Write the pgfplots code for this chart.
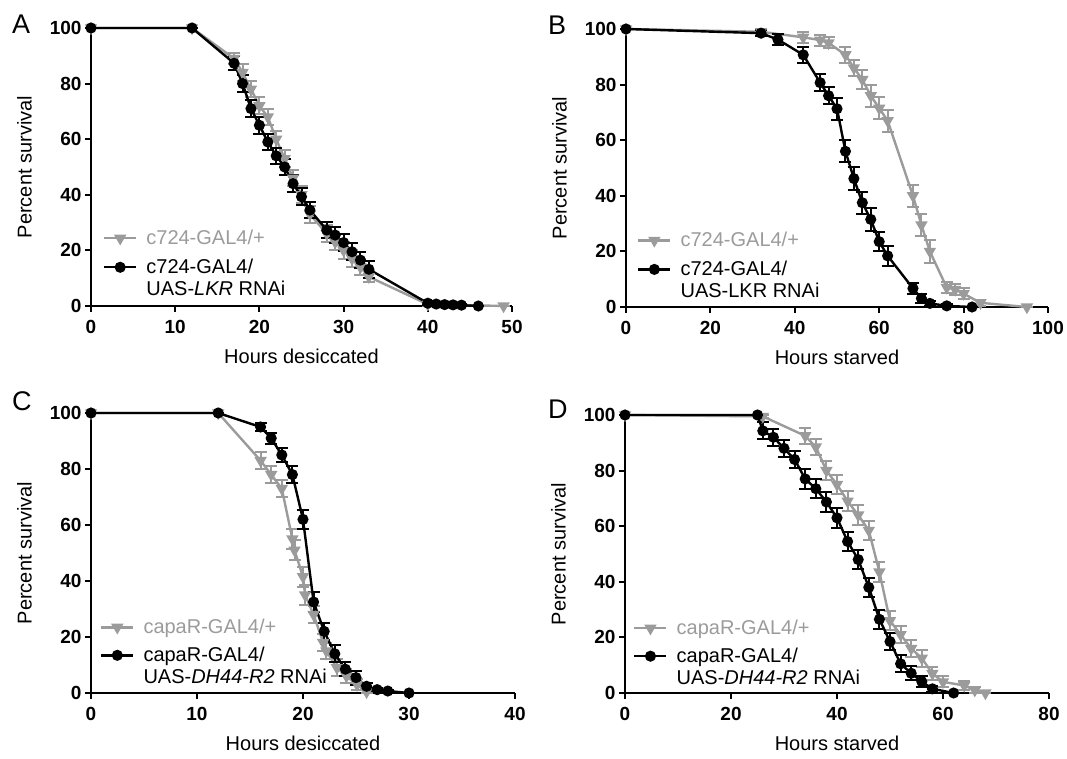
\documentclass[border=0pt]{standalone}
\usepackage{fontspec}
\setmainfont{Liberation Sans}
\usepackage{pgfplots}
\pgfplotsset{compat=1.18}

\definecolor{ctrl}{RGB}{155,155,155}

\pgfplotsset{
  survival/.style={
    scale only axis,
    anchor=south west,
    axis lines=left,
    axis line style={-, line width=2.4pt},
    tick align=outside,
    major tick length=6pt,
    tick style={line width=2pt, black},
    ymin=0, ymax=100,
    ytick={0,20,...,100},
    /pgf/number format/assume math mode=true,
    ticklabel style={font=\bfseries\fontsize{19}{21}\selectfont},
    xticklabel shift=5pt,
    label style={font=\fontsize{20}{23}\selectfont},
    xlabel style={yshift=-8pt},
    ylabel style={yshift=11pt},
    ylabel={Percent survival},
    clip=false,
    legend cell align=left,
    legend style={draw=none, fill=none, anchor=north west, inner sep=0pt,
      row sep=0pt, column sep=7pt,
      font=\fontsize{20}{23}\selectfont,
      nodes={inner sep=2pt, text height=15pt, text depth=3pt}},
    legend image code/.code={
      \draw[mark repeat=2,mark phase=2,#1] plot coordinates {(0pt,0pt) (16pt,0pt) (32pt,0pt)};},
  },
  ctrlline/.style={color=ctrl, line width=2.4pt, mark=triangle*, mark size=4.8pt,
    mark options={rotate=180, solid},
    error bars/.cd, y dir=both, y explicit,
    error bar style={line width=2pt},
    error mark options={rotate=90, mark size=6pt, line width=2pt}},
  rnailine/.style={color=black, line width=2.4pt, mark=*, mark size=4.3pt,
    mark options={solid},
    error bars/.cd, y dir=both, y explicit,
    error bar style={line width=2pt},
    error mark options={rotate=90, mark size=6pt, line width=2pt}},
}

\begin{document}
\begin{tikzpicture}
\path[use as bounding box] (0,0) rectangle (1067pt,759pt);

% ---------- A ----------
\begin{axis}[survival, at={(91pt,453pt)}, width=421pt, height=278pt,
  xmin=0, xmax=50, xtick={0,10,...,50}, xlabel={Hours desiccated},
  legend style={at={(0.028,0.309)}}]
\addplot[ctrlline] table[y error=e] {
x y e
0 100 0
12 100 0
17 89 2
18 84 3
19 78 3
20 72 3
21 68 3
22 60 3
23 53 3
24 46 3
25 40 3
26 33 3
28 26 3
29 23 3
30 20 3
31 17 3
32 14 3
33 10.5 2
40 0.6 0.5
49 0 0
};
\addlegendentry[text height=22pt, text depth=10pt]{\textcolor{ctrl}{c724-GAL4/+}}
\addplot[rnailine] table[y error=e] {
x y e
0 100 0
12 100 0
17 87.3 2.5
18 80 3
19 71 3
20 65 3
21 59 3
22 54 3
23 50 3
24 44 3
25 39.3 3
26 34.5 3
28 27.3 3
29 25.5 3
30 22.8 3
31 19.5 3
32 16.5 3
33 13.2 3
40 1 0.5
41 0.7 0.5
42 0.5 0.4
43 0.4 0.3
44 0.3 0.3
46 0 0
};
\addlegendentry{c724-GAL4/}
\addlegendimage{empty legend}
\addlegendentry{UAS-\textit{LKR} RNAi}
\end{axis}

% ---------- B ----------
\begin{axis}[survival, at={(626pt,452pt)}, width=422pt, height=278pt,
  xmin=0, xmax=100, xtick={0,20,...,100}, xlabel={Hours starved},
  legend style={at={(0.026,0.305)}}]
\addplot[ctrlline] table[y error=e] {
x y e
0 100 0
32 99 1
42 97 2
46 96 2
48 95 2
52 90.7 3
54 86 3
56 81.8 3.5
58 76 4
60 71.5 4
62 67 4
68 40 4
70 29.5 4
72 20 4
76 7 2
78 6.3 2
80 4.8 2
84 1.5 1
95 0 0
};
\addlegendentry[text height=22pt, text depth=10pt]{\textcolor{ctrl}{c724-GAL4/+}}
\addplot[rnailine] table[y error=e] {
x y e
0 100 0
32 98.5 1
36 96.2 2
42 90.7 3
46 80.7 3
48 76 3
50 71.3 4
52 56 4
54 46.2 4
56 37.5 4
58 31.5 4
60 23.5 3.5
62 18.4 3.5
68 6.7 2
70 3.1 1.5
72 1.3 1
76 0.4 0.5
82 0 0
};
\addlegendentry{c724-GAL4/}
\addlegendimage{empty legend}
\addlegendentry{UAS-LKR RNAi}
\end{axis}

% ---------- C ----------
\begin{axis}[survival, at={(91pt,66pt)}, width=424pt, height=280pt,
  xmin=0, xmax=40, xtick={0,10,...,40}, xlabel={Hours desiccated},
  legend style={at={(0.021,0.296)}}]
\addplot[ctrlline] table[y error=e] {
x y e
0 100 0
12 100 0
16 83 3
17 78 3
18 73 3
19 55 3.5
19.2 51 3.5
20 41.5 3.5
20.2 35 3.5
21 28 3
21.9 18 3
22.2 15 3
23.2 9 3
24.1 6 2.5
25.1 3 2
26 0.4 0.5
};
\addlegendentry[text height=21pt, text depth=9pt]{\textcolor{ctrl}{capaR-GAL4/+}}
\addplot[rnailine] table[y error=e] {
x y e
0 100 0
12 100 0
16 95 1.5
17 91 2
18 85 2.5
19 78 3
20 62 3.5
21 32.5 3.5
22 22 3
23 14 3
24 8.5 2.5
25 5.5 2.5
26 2.4 1
27 1.2 0.5
28 0.7 0.4
30 0 0
};
\addlegendentry{capaR-GAL4/}
\addlegendimage{empty legend}
\addlegendentry{UAS-\textit{DH44-R2} RNAi}
\end{axis}

% ---------- D ----------
\begin{axis}[survival, at={(625pt,66pt)}, width=424pt, height=278pt,
  xmin=0, xmax=80, xtick={0,20,...,80}, xlabel={Hours starved},
  legend style={at={(0.019,0.295)}}]
\addplot[ctrlline] table[y error=e] {
x y e
0 100 0
26 99.5 0.5
34 92.5 3
36 88.5 3
38 80 3.5
40 75 3.5
42 69 3.5
44 64 3.5
46 58.5 3.5
48 43.5 3.5
50 26 3.5
52 21 3
54 16 3
56 12.5 3
58 7 2.5
60 4 2
64 2.7 1.5
66 1 1
68 0 0
};
\addlegendentry[text height=21pt, text depth=9pt]{\textcolor{ctrl}{capaR-GAL4/+}}
\addplot[rnailine] table[y error=e] {
x y e
0 100 0
25 100 0
26 94.3 3
28 92 3
30 88 3
32 84 3
34 77 3.5
36 73.5 3.5
38 68.7 3.5
40 63 3.5
42 54.5 3.5
44 48 3.5
46 38 3.5
48 26.5 3.5
50 18.5 3
52 10.5 3
54 7.1 2.5
56 4.1 2
58 1.5 1
62 0 0
};
\addlegendentry{capaR-GAL4/}
\addlegendimage{empty legend}
\addlegendentry{UAS-\textit{DH44-R2} RNAi}
\end{axis}

\node[anchor=base west, inner sep=0pt, font=\fontsize{27}{29}\selectfont] at (12pt,725pt) {A};
\node[anchor=base west, inner sep=0pt, font=\fontsize{27}{29}\selectfont] at (548pt,724pt) {B};
\node[anchor=base west, inner sep=0pt, font=\fontsize{27}{29}\selectfont] at (12pt,348pt) {C};
\node[anchor=base west, inner sep=0pt, font=\fontsize{27}{29}\selectfont] at (548pt,340pt) {D};
\end{tikzpicture}
\end{document}
